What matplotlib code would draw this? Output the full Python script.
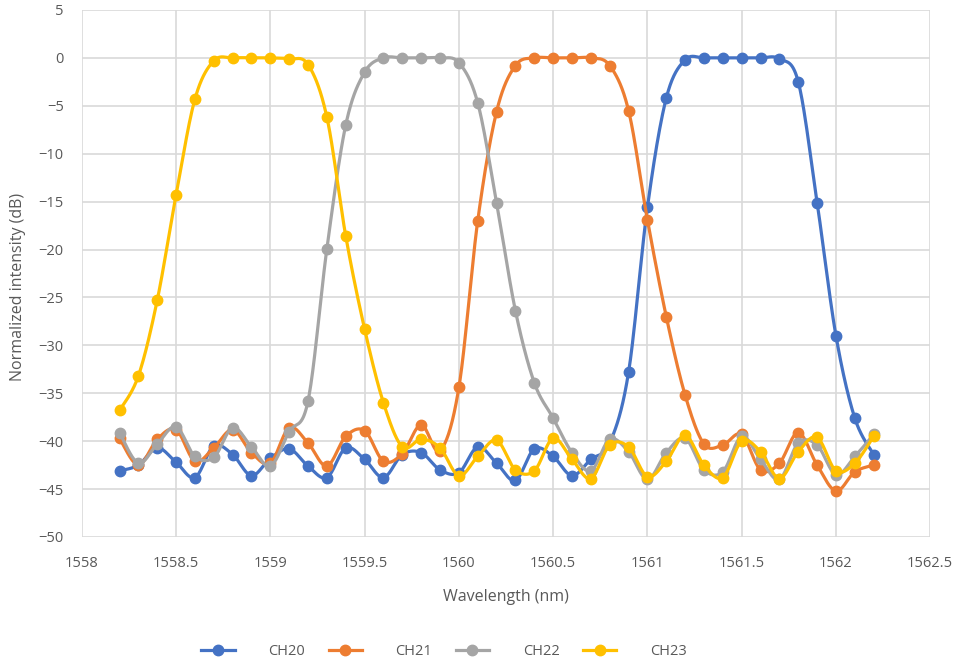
import numpy as np
import matplotlib.pyplot as plt

# wavelength grid 1558.2 .. 1562.2 nm, 0.1 nm steps
wavelength = [1558.2, 1558.3, 1558.4, 1558.5, 1558.6, 1558.7, 1558.8, 1558.9, 1559.0,
              1559.1, 1559.2, 1559.3, 1559.4, 1559.5, 1559.6, 1559.7, 1559.8, 1559.9,
              1560.0, 1560.1, 1560.2, 1560.3, 1560.4, 1560.5, 1560.6, 1560.7, 1560.8,
              1560.9, 1561.0, 1561.1, 1561.2, 1561.3, 1561.4, 1561.5, 1561.6, 1561.7,
              1561.8, 1561.9, 1562.0, 1562.1, 1562.2]

ch20 = [-43.1, -42.5, -40.7, -42.2, -43.8, -40.5, -41.4, -43.6, -41.8, -40.8, -42.6,
        -43.8, -40.7, -41.9, -43.8, -41.4, -41.2, -43.0, -43.3, -40.6, -42.3, -44.1,
        -40.8, -41.6, -43.6, -41.9, -40.2, -32.8, -15.6, -4.2, -0.2, 0.0, 0.0, 0.0,
        0.0, -0.1, -2.5, -15.1, -29.0, -37.6, -41.4]
ch21 = [-39.7, -42.5, -39.8, -38.8, -42.1, -40.7, -38.8, -41.2, -42.3, -38.6, -40.2,
        -42.6, -39.5, -38.9, -42.1, -41.3, -38.3, -41.0, -34.4, -17.0, -5.6, -0.8,
        0.0, 0.0, 0.0, 0.0, -0.8, -5.5, -16.9, -27.0, -35.2, -40.3, -40.4, -39.3,
        -43.0, -42.3, -39.1, -42.5, -45.2, -43.2, -42.5]
ch22 = [-39.1, -42.3, -40.3, -38.5, -41.6, -41.7, -38.6, -40.6, -42.6, -39.0, -35.8,
        -19.9, -7.0, -1.5, 0.0, 0.0, 0.0, 0.0, -0.5, -4.7, -15.1, -26.4, -33.9,
        -37.6, -41.2, -43.1, -39.8, -41.1, -44.0, -41.2, -39.7, -43.0, -43.2, -39.5,
        -41.9, -44.0, -40.2, -40.4, -43.5, -41.6, -39.3]
ch23 = [-36.8, -33.2, -25.3, -14.3, -4.3, -0.3, 0.0, 0.0, 0.0, -0.1, -0.7, -6.2,
        -18.6, -28.3, -36.0, -40.6, -39.8, -40.7, -43.6, -41.6, -39.9, -43.0, -43.1,
        -39.7, -41.9, -43.9, -40.4, -40.6, -43.7, -42.1, -39.4, -42.5, -43.8, -40.0,
        -41.1, -43.9, -41.1, -39.6, -43.1, -42.3, -39.5]

labels = ["CH20", "CH21", "CH22", "CH23"]
colors = ["#4472C4", "#ED7D31", "#A5A5A5", "#FFC000"]


def smooth(x, y, n=20):
    # Catmull-Rom style curve through the points (like Excel's smoothed line)
    x = np.asarray(x, float)
    y = np.asarray(y, float)
    px = np.concatenate([[x[0]], x, [x[-1]]])
    py = np.concatenate([[y[0]], y, [y[-1]]])
    t = np.linspace(0, 1, n, endpoint=False)
    xs, ys = [], []
    for i in range(1, len(px) - 2):
        for p, out in ((px, xs), (py, ys)):
            p0, p1, p2, p3 = p[i - 1], p[i], p[i + 1], p[i + 2]
            out.append(0.5 * (2 * p1 + (-p0 + p2) * t
                              + (2 * p0 - 5 * p1 + 4 * p2 - p3) * t ** 2
                              + (-p0 + 3 * p1 - 3 * p2 + p3) * t ** 3))
    xs.append([x[-1]])
    ys.append([y[-1]])
    return np.concatenate(xs), np.concatenate(ys)


plt.rcParams["font.family"] = ["Open Sans", "DejaVu Sans"]
txt = "#595959"

fig = plt.figure(figsize=(9.59, 6.64), dpi=100)
ax = fig.add_axes([0.0853, 0.1913, 0.8847, 0.7937])

for y, lab, c in zip([ch20, ch21, ch22, ch23], labels, colors):
    sx, sy = smooth(wavelength, y)
    ax.plot(sx, sy, color=c, lw=2.3, solid_capstyle="round")
    ax.plot(wavelength, y, "o", color=c, ms=7.5)
    ax.plot([], [], "-o", color=c, lw=2.3, ms=7.5, label=lab)

ax.set_xlim(1558, 1562.5)
ax.set_ylim(-50, 5)
ax.set_xticks(np.arange(1558, 1562.51, 0.5))
ax.set_xticklabels(["1558", "1558.5", "1559", "1559.5", "1560", "1560.5",
                    "1561", "1561.5", "1562", "1562.5"])
ax.set_yticks(np.arange(-50, 6, 5))
ax.grid(color="#d9d9d9", lw=1.2)
ax.set_axisbelow(True)
for s in ax.spines.values():
    s.set_visible(False)
ax.tick_params(length=0, colors=txt, labelsize=10.5)
ax.tick_params(axis="x", pad=14)
ax.tick_params(axis="y", pad=13)
ax.set_xlabel("Wavelength (nm)", color=txt, fontsize=11.5)
ax.set_ylabel("Normalized intensity (dB)", color=txt, fontsize=11.5)
ax.xaxis.set_label_coords(0.5, -0.098)
ax.yaxis.set_label_coords(-0.066, 0.474)

leg = fig.legend(loc="center", bbox_to_anchor=(0.463, 0.019), ncol=4, frameon=False,
                 handlelength=2.3, handletextpad=2.3, columnspacing=1.6,
                 fontsize=10.5)
for t in leg.get_texts():
    t.set_color(txt)

fig.savefig("out.png", dpi=100)
